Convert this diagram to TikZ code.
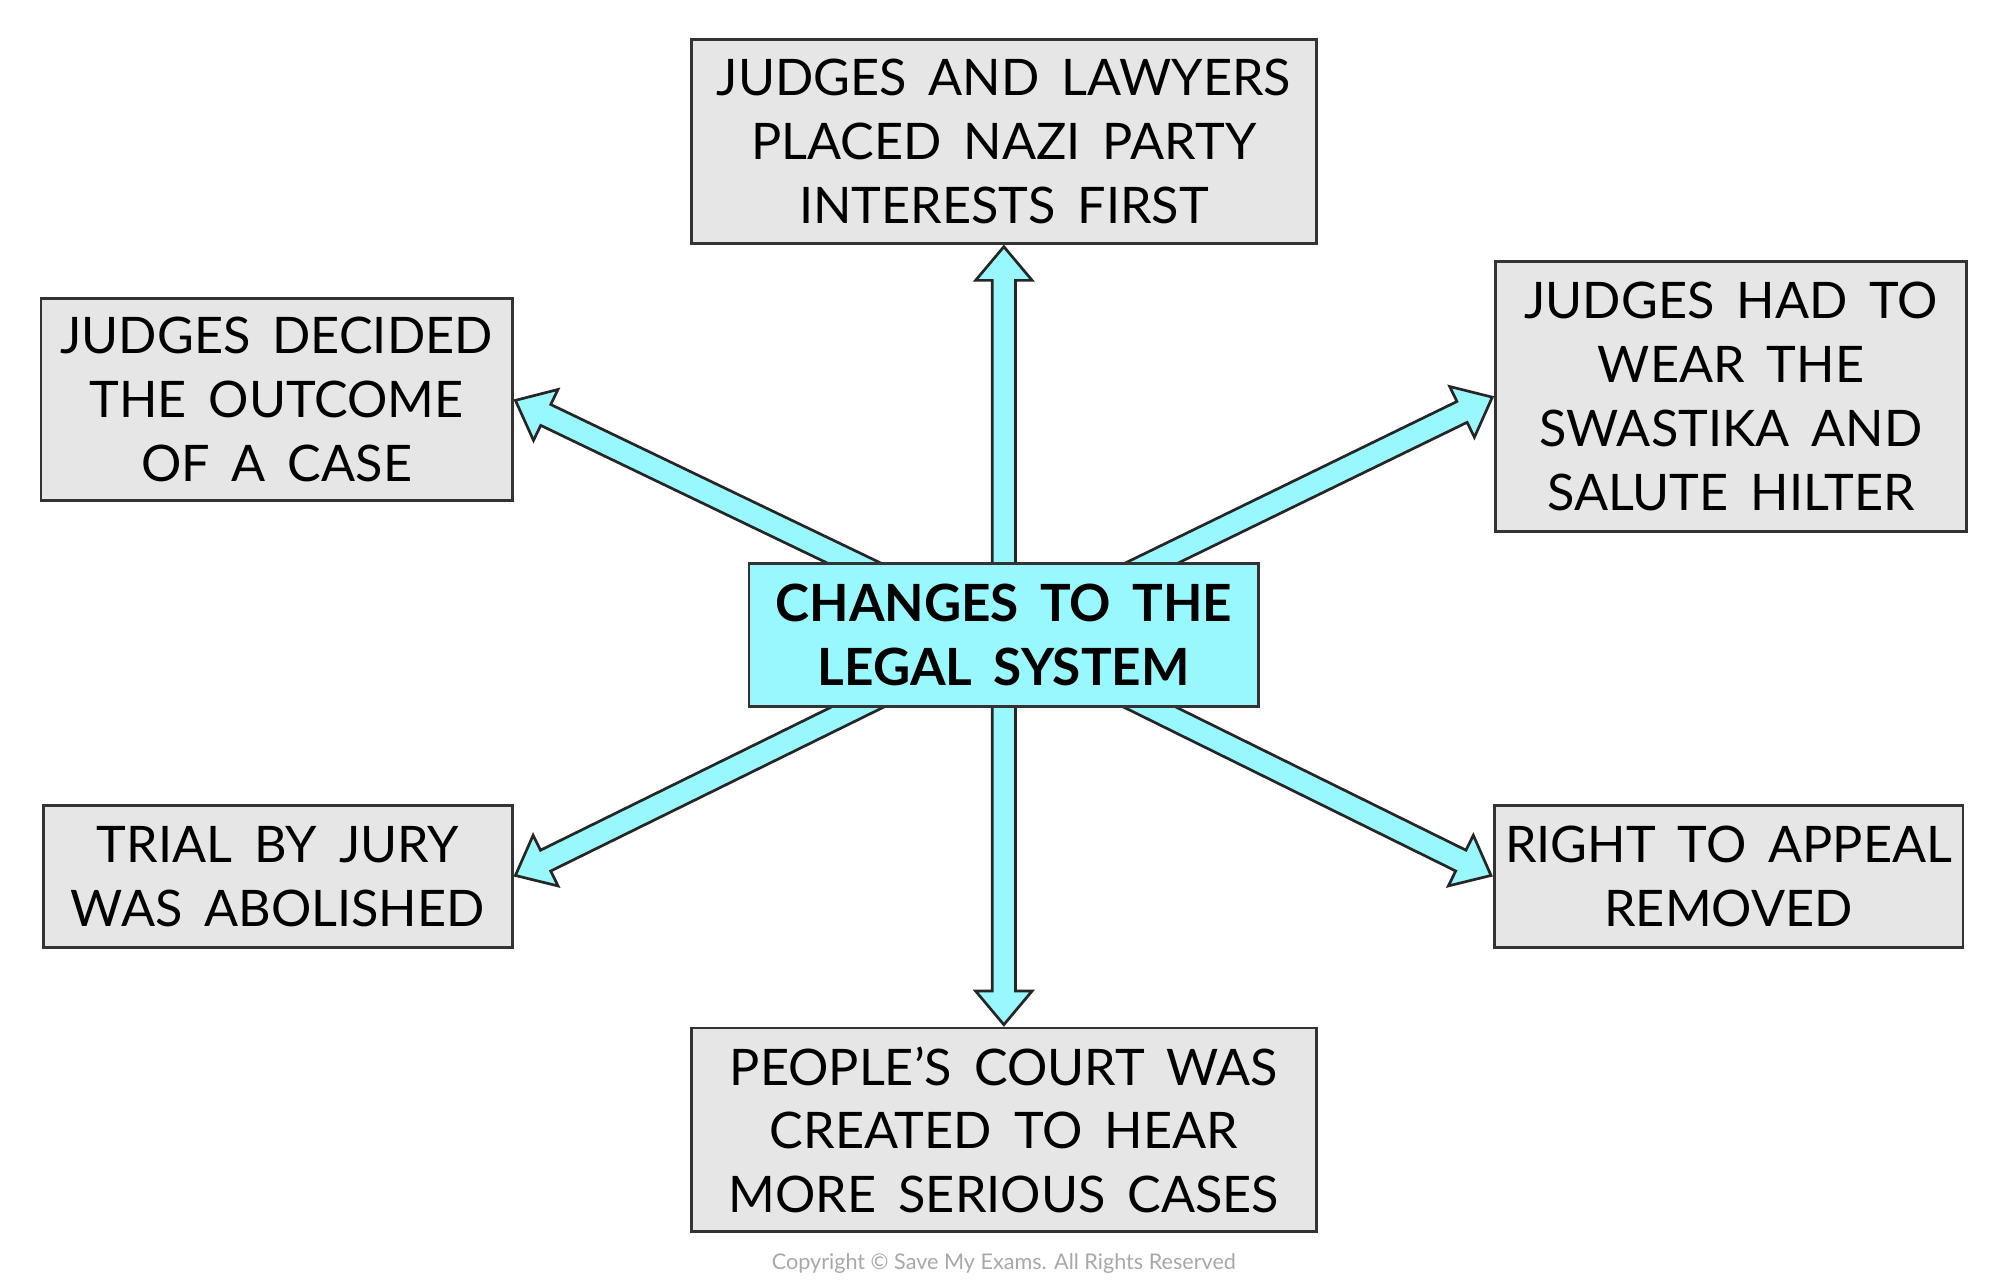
\documentclass[tikz,border=0pt]{standalone}
\usepackage{fontspec}
\setmainfont{Lato}[WordSpace=1.7]
\newfontfamily\copyfont{Lato}
\usetikzlibrary{calc,shapes.arrows,backgrounds,positioning}
\definecolor{LCyan}{HTML}{99F8FD}
\definecolor{LGrey}{HTML}{E6E6E6}
\definecolor{CGrey}{HTML}{A8A8A8}
\tikzset{
    block/.style = {draw=black!80, fill=LGrey, line width=0.6pt, rectangle,
        inner sep=0pt, align=center, font=\fontsize{11.2}{14.2}\selectfont},
    hub/.style = {block, fill=LCyan, font=\fontsize{11.4}{14.4}\selectfont\bfseries},
    fatarrow/.style = {single arrow, draw=black!85, fill=LCyan, line width=0.6pt,
        inner sep=0.08cm, single arrow head extend=0.13cm,
        single arrow tip angle=80, sloped, allow upside down, anchor=tip}
}
\newcommand{\spoke}[2]{%
  \path let \p1=($(#2)-(#1)$), \n1={veclen(\x1,\y1)} in
    (#1) -- node[fatarrow, pos=1, minimum height=\n1] {} (#2);}

\begin{document}
\begin{tikzpicture}
  \useasboundingbox (0,0) rectangle (15.62,10.03);
  \node[hub, minimum width=3.98cm, minimum height=1.12cm] (legal) at (7.84,5.07)
    {CHANGES TO THE\\LEGAL SYSTEM};
  \node[block, minimum width=4.88cm, minimum height=1.59cm] (jlaw) at (7.84,8.925)
    {JUDGES AND LAWYERS\\PLACED NAZI PARTY\\INTERESTS FIRST};
  \node[block, minimum width=3.68cm, minimum height=1.58cm] (jdec) at (2.16,6.91)
    {JUDGES DECIDED\\THE OUTCOME\\OF A CASE};
  \node[block, minimum width=3.68cm, minimum height=2.11cm] (jhad) at (13.52,6.935)
    {JUDGES HAD TO\\WEAR THE\\SWASTIKA AND\\SALUTE HILTER};
  \node[block, minimum width=3.66cm, minimum height=1.11cm] (jury) at (2.17,3.185)
    {TRIAL BY JURY\\WAS ABOLISHED};
  \node[block, minimum width=3.66cm, minimum height=1.11cm] (appeal) at (13.5,3.185)
    {RIGHT TO APPEAL\\REMOVED};
  \node[block, minimum width=4.88cm, minimum height=1.59cm] (pcourt) at (7.84,1.205)
    {PEOPLE’S COURT WAS\\CREATED TO HEAR\\MORE SERIOUS CASES};
  \node[CGrey, font=\copyfont\fontsize{4.8}{5}\selectfont] (copy) at (7.84,0.16)
    {Copyright © Save My Exams. All Rights Reserved};
  % spokes sit behind the hub box
  \begin{scope}[on background layer]
    \spoke{legal.center}{jlaw.south}
    \spoke{legal.center}{jdec.east}
    \spoke{legal.center}{jhad.west}
    \spoke{legal.center}{jury.east}
    \spoke{legal.center}{appeal.west}
    \spoke{legal.center}{pcourt.north}
  \end{scope}
\end{tikzpicture}
\end{document}
